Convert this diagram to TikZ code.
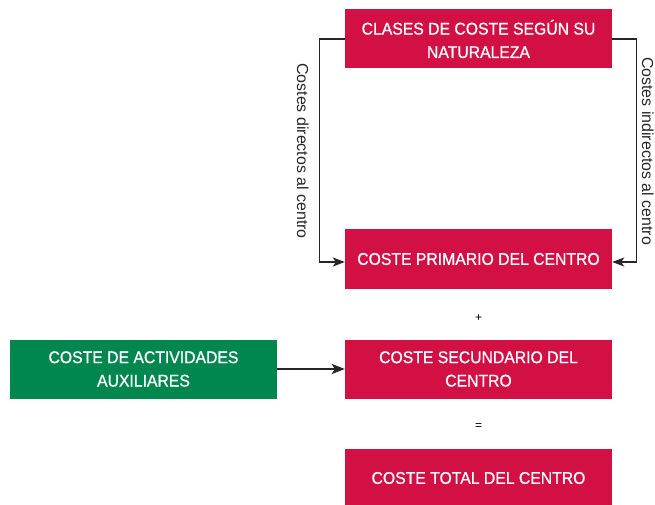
\documentclass[tikz,border=0pt]{standalone}
\usepackage{fontspec}
\setmainfont{Liberation Sans}
\newfontfamily\cajafont[FakeStretch=0.93,FakeBold=0.8]{Liberation Sans}
\usepackage{tikz}
\usetikzlibrary{arrows.meta}
\definecolor{rojo}{RGB}{210,16,68}
\definecolor{verde}{RGB}{0,135,80}

\begin{document}
\begin{tikzpicture}[x=1bp,y=-1bp,
  caja/.style={fill=rojo, text=white, minimum width=267bp, minimum height=59bp, inner sep=0pt, align=center, font=\cajafont\fontsize{17}{23.5}\selectfont},
  cajaverde/.style={caja, fill=verde},
  flecha/.style={-{Stealth[length=12bp,width=9bp,inset=3bp]}, line width=1.3bp, black!85},
  etiqueta/.style={rotate=-90, anchor=base, inner sep=0pt, text=black!85, font=\fontsize{16}{18}\selectfont}]
\useasboundingbox (0,0) rectangle (655,505);
% bloques
\node [caja] (clases) at (478.5,39) {CLASES DE COSTE SEGÚN SU\\NATURALEZA};
\node [caja] (primario) at (478.5,259) {COSTE PRIMARIO DEL CENTRO};
\node [caja] (secundario) at (478.5,369) {COSTE SECUNDARIO DEL\\CENTRO};
\node [caja] (total) at (478.5,478) {COSTE TOTAL DEL CENTRO};
\node [cajaverde] (auxiliares) at (143.5,369) {COSTE DE ACTIVIDADES\\AUXILIARES};
% signos
\node [font=\fontsize{12}{14}\selectfont] (mas) at (478.5,318) {+};
\node [font=\fontsize{12}{14}\selectfont] (igual) at (478.5,427) {=};
% flechas
\draw [flecha] (clases.west) -- ++(-25,0) |- ([yshift=-3bp]primario.west);
\draw [flecha] (clases.east) -- ++(24,0) |- ([yshift=-3bp]primario.east);
\draw [flecha, line width=2bp, -{Stealth[length=13bp,width=10bp,inset=3bp]}] (auxiliares.east) -- (secundario.west);
% textos
\node [etiqueta] (directos) at (297,151) {Costes directos al centro};
\node [etiqueta] (indirectos) at (642,151) {Costes indirectos al centro};
\end{tikzpicture}
\end{document}
